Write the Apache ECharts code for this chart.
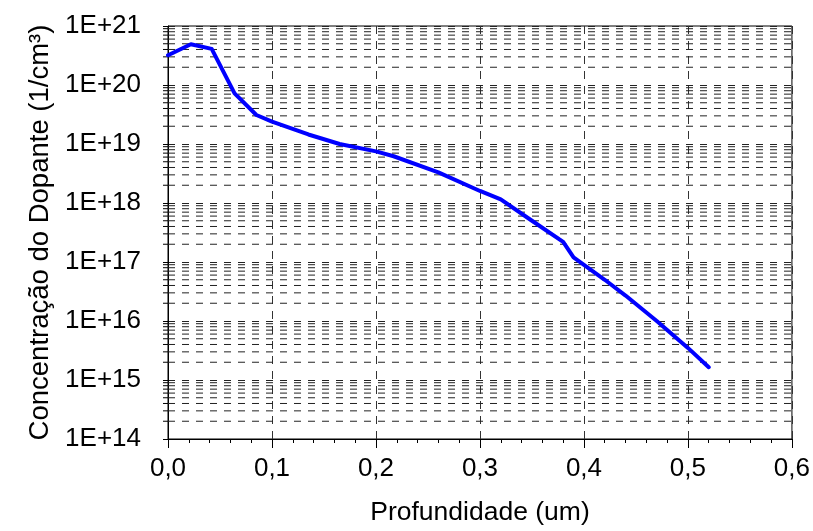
<!DOCTYPE html>
<html>
<head>
<meta charset="utf-8">
<script src="https://cdn.jsdelivr.net/npm/echarts@6/dist/echarts.min.js"></script>
<style>
  html, body { margin: 0; padding: 0; background: #fff; }
  #chart { width: 813px; height: 531px; }
</style>
</head>
<body>
<div id="chart"></div>
<script>
// Dopant concentration profile vs. depth
const depth = [0, 0.022, 0.042, 0.064, 0.085, 0.10, 0.135, 0.165, 0.20, 0.217, 0.26, 0.30, 0.32, 0.35, 0.38, 0.39, 0.42, 0.44, 0.47, 0.50, 0.52];
const concentration = [3.2e20, 4.9e20, 4.1e20, 7.2e19, 3.1e19, 2.4e19, 1.45e19, 1.0e19, 7.5e18, 6.2e18, 3.3e18, 1.6e18, 1.15e18, 5e17, 2.2e17, 1.2e17, 5e16, 2.7e16, 1e16, 3.5e15, 1.65e15];

const xMin = 0, xMax = 0.6, xStep = 0.1;
const yMinExp = 14, yMaxExp = 21;
const xTitle = 'Profundidade (um)';
const yTitle = 'Concentração do Dopante (1/cm³)';

const FONT = "'Liberation Sans', Arial, sans-serif";

// minor log grid values: 2..9 x 10^k in every decade
const minorValues = [];
for (let k = yMinExp; k < yMaxExp; k++) {
  for (let m = 2; m <= 9; m++) minorValues.push([xMin, m * Math.pow(10, k)]);
}

const chart = echarts.init(document.getElementById('chart'));
chart.setOption({
  animation: false,
  backgroundColor: '#fff',
  grid: {
    left: 168, right: 21, top: 26, bottom: 85,
    show: true, borderColor: '#000', borderWidth: 1, backgroundColor: 'transparent'
  },
  xAxis: {
    type: 'value', min: xMin, max: xMax, interval: xStep,
    name: xTitle, nameLocation: 'middle', nameGap: 60,
    nameTextStyle: { fontFamily: FONT, fontSize: 26.5, color: '#000' },
    axisLine: { show: true, lineStyle: { color: '#000', width: 1 } },
    axisTick: { show: true, inside: false, length: 9, lineStyle: { color: '#000' } },
    minorTick: { show: true, splitNumber: 5, length: 4, lineStyle: { color: '#000' } },
    axisLabel: {
      fontFamily: FONT, fontSize: 26, color: '#000', margin: 17,
      formatter: v => v.toFixed(1).replace('.', ',')
    },
    splitLine: { show: true, lineStyle: { color: '#333', type: [8, 7], width: 1 } }
  },
  yAxis: {
    type: 'log', logBase: 10,
    min: Math.pow(10, yMinExp), max: Math.pow(10, yMaxExp), interval: 1,
    name: yTitle, nameLocation: 'middle', nameGap: 111,
    nameTextStyle: { fontFamily: FONT, fontSize: 27.5, color: '#000' },
    axisLine: { show: true, lineStyle: { color: '#000', width: 1 } },
    axisTick: { show: true, inside: false, length: 5, lineStyle: { color: '#000' } },
    axisLabel: {
      fontFamily: FONT, fontSize: 26, color: '#000', margin: 27,
      formatter: v => '1E+' + Math.round(Math.log10(v))
    },
    splitLine: { show: true, lineStyle: { color: '#222', type: [7, 7], width: 1 } }
  },
  series: [
    {
      // minor gridlines and ticks of the log axis
      type: 'custom',
      data: minorValues,
      encode: { x: 0, y: 1 },
      silent: true,
      z: 1,
      renderItem: function (params, api) {
        const p0 = api.coord([xMin, api.value(1)]);
        const p1 = api.coord([xMax, api.value(1)]);
        return {
          type: 'group',
          children: [
            {
              type: 'line',
              shape: { x1: p0[0], y1: p0[1], x2: p1[0], y2: p1[1] },
              style: { stroke: '#222', lineWidth: 1, lineDash: [7, 7] }
            },
            {
              type: 'line',
              shape: { x1: p0[0] - 5, y1: p0[1], x2: p0[0], y2: p0[1] },
              style: { stroke: '#000', lineWidth: 1 }
            }
          ]
        };
      }
    },
    {
      type: 'line',
      data: depth.map((d, i) => [d, concentration[i]]),
      showSymbol: false,
      symbol: 'none',
      z: 5,
      lineStyle: { color: '#0000ff', width: 4, join: 'round', cap: 'round' }
    }
  ]
});
</script>
</body>
</html>
